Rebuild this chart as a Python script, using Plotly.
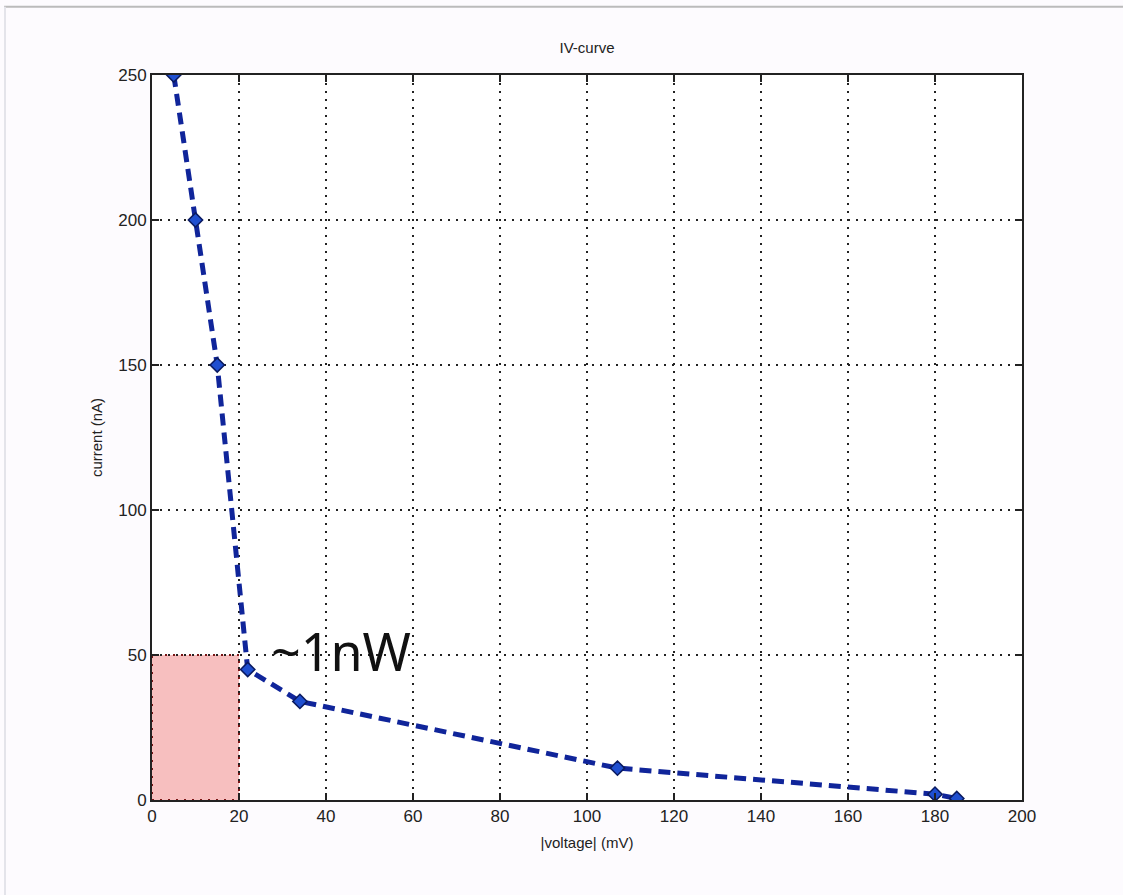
import plotly.graph_objects as go

voltage_mV = [5, 10, 15, 22, 34, 107, 180, 185]
current_nA = [250, 200, 150, 45, 34, 11, 2, 0.5]
x_ticks = [0, 20, 40, 60, 80, 100, 120, 140, 160, 180, 200]
y_ticks = [0, 50, 100, 150, 200, 250]
box_v = [0, 20]
box_i = [0, 50]

FONT = "Liberation Sans, Arial, sans-serif"

fig = go.Figure()

fig.add_shape(type="rect", xref="x", yref="y",
              x0=box_v[0], x1=box_v[1], y0=box_i[0], y1=box_i[1],
              fillcolor="rgba(244,170,170,0.75)",
              line=dict(width=2, color="#7a1515", dash="2px,6px"),
              layer="below")

fig.add_trace(go.Scatter(
    x=voltage_mV, y=current_nA, mode="lines+markers",
    line=dict(color="#10259a", width=5, dash="12px,7px"),
    marker=dict(symbol="diamond", size=11, color="#1f4fd0",
                line=dict(color="#0a1a60", width=1.5)),
    showlegend=False,
))

fig.add_annotation(x=27, y=51.5, xref="x", yref="y", text="~1nW",
                   showarrow=False, xanchor="left", yanchor="middle",
                   font=dict(family="Noto Sans", size=52, color="#111111"))

# outer image frame
fig.add_shape(type="line", xref="paper", yref="paper", x0=-0.17, x1=1.12,
              y0=1.094, y1=1.094, line=dict(color="#bbbbbb", width=2))
fig.add_shape(type="line", xref="paper", yref="paper", x0=-0.169, x1=-0.169,
              y0=-0.14, y1=1.094, line=dict(color="#e4e4ea", width=2))

axis_common = dict(
    showline=True, linecolor="#222222", linewidth=2, mirror="ticks",
    ticks="inside", ticklen=7, tickcolor="#222222", tickwidth=2,
    showgrid=True, gridcolor="#222222", griddash="2px,6px", gridwidth=2,
    zeroline=False,
    tickfont=dict(family=FONT, size=17, color="#222222"),
)

fig.update_xaxes(range=[0, 200], tickvals=x_ticks, **axis_common,
                 title=dict(text="|voltage| (mV)", standoff=12,
                            font=dict(family=FONT, size=15, color="#222222")))
fig.update_yaxes(range=[0, 250], tickvals=y_ticks, **axis_common,
                 title=dict(text="current (nA)", standoff=12,
                            font=dict(family=FONT, size=15, color="#222222")))

fig.update_layout(
    width=1123, height=895,
    margin=dict(l=152, r=101, t=75, b=95),
    paper_bgcolor="#fdfbfe", plot_bgcolor="#ffffff",
    title=dict(text="IV-curve", x=0.5, xref="paper", xanchor="center",
               y=1 - 48 / 895, yanchor="middle",
               font=dict(family=FONT, size=15, color="#222222")),
)

fig.write_html("out.html")
